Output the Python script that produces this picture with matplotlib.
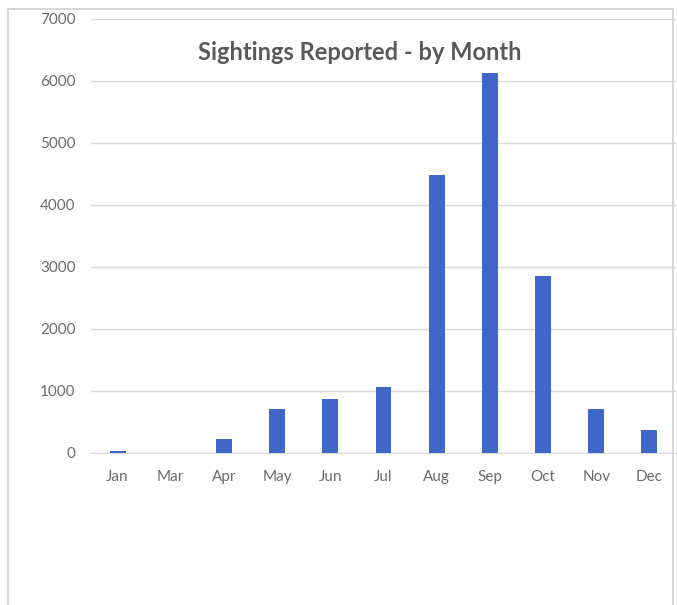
import matplotlib.pyplot as plt
import matplotlib.patches as mpatches
import numpy as np

# Data
months = ['Jan', 'Mar', 'Apr', 'May', 'Jun', 'Jul', 'Aug', 'Sep', 'Oct', 'Nov', 'Dec']
sightings = [25, 3, 225, 705, 875, 1065, 4490, 6135, 2850, 710, 365]
y_ticks = [0, 1000, 2000, 3000, 4000, 5000, 6000, 7000]

W, H = 677, 605
fig = plt.figure(figsize=(W / 100, H / 100), dpi=100)
fig.patch.set_facecolor('white')
ax = fig.add_axes([91 / W, 1 - 453 / H, (676 - 91) / W, (453 - 19) / H])

x = np.arange(len(months))
ax.bar(x, sightings, width=0.3, color='#3F66C9', zorder=3)

# Styling, Excel-like
ax.set_xlim(-0.5, len(months) - 0.5)
ax.set_ylim(0, 7000)
ax.set_yticks(y_ticks)
ax.set_yticklabels([str(v) for v in y_ticks])
ax.set_xticks(x)
ax.set_xticklabels(months)
ax.grid(axis='y', color='#d9d9d9', linewidth=1, zorder=0)
for s in ['top', 'right', 'left']:
    ax.spines[s].set_visible(False)
ax.spines['bottom'].set_color('#d9d9d9')
ax.tick_params(axis='both', length=0, labelsize=11, labelcolor='#6b6b6b')
ax.tick_params(axis='y', pad=11)
ax.tick_params(axis='x', pad=12)
for lbl in ax.get_xticklabels() + ax.get_yticklabels():
    lbl.set_fontfamily('Lato')

# Title
fig.text(360 / W, 1 - 53 / H, 'Sightings Reported - by Month', ha='center', va='center',
         fontsize=17, fontweight='bold', fontfamily='Lato', color='#595959')

# Chart frame
frame = mpatches.Rectangle((8 / W, -0.05), (673 - 8) / W, 1.05 - 9 / H,
                           transform=fig.transFigure, fill=False,
                           edgecolor='#d0d0d0', linewidth=1.2)
fig.patches.append(frame)

plt.savefig('out.png', dpi=100, facecolor='white')
plt.close()
